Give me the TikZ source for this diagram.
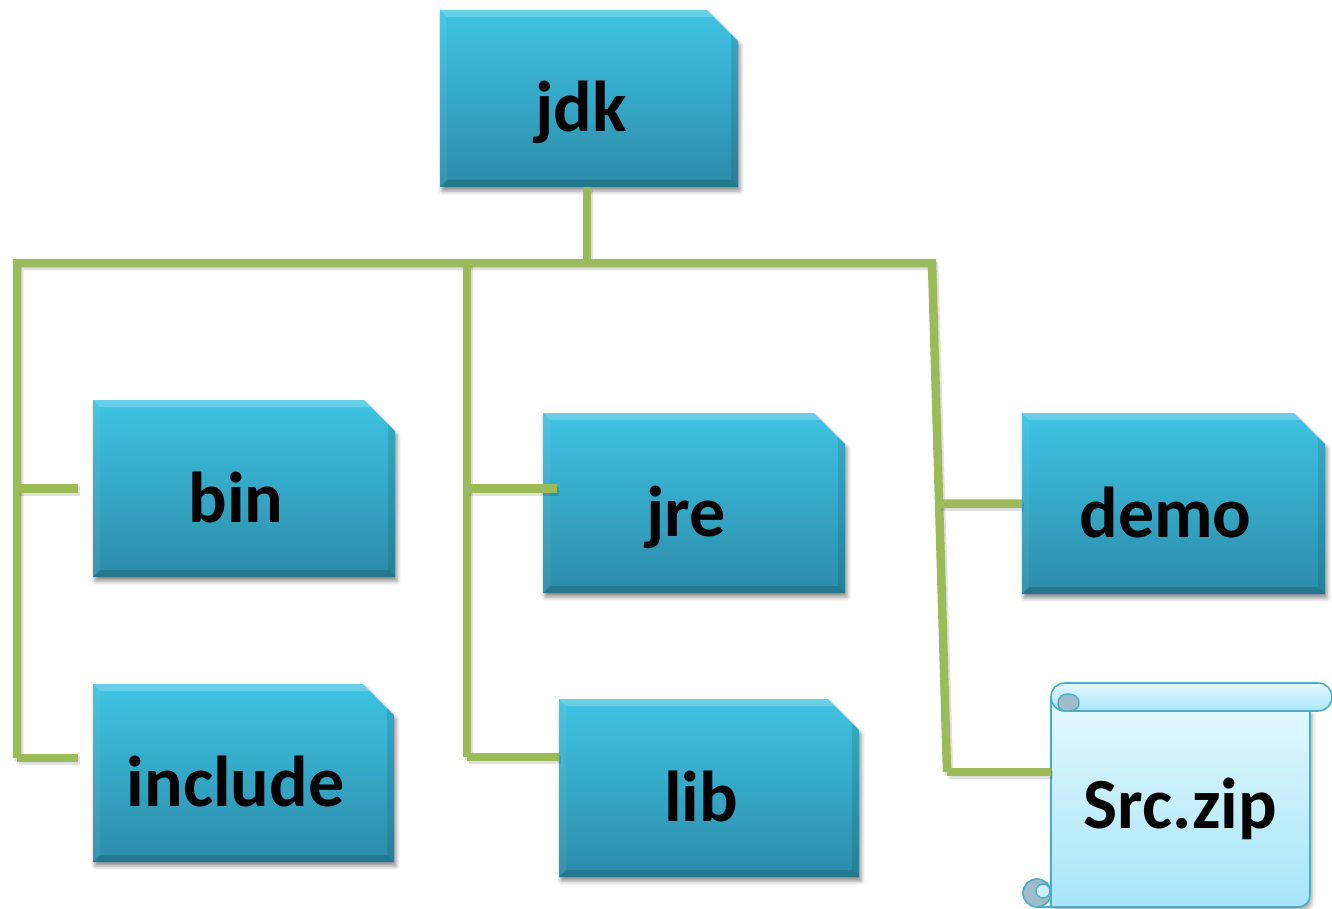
\documentclass[tikz,border=0pt]{standalone}
\usepackage{fontspec}
\setmainfont{Carlito}
\usetikzlibrary{shapes.misc,shadows,shadows.blur,calc}

\definecolor{boxtop}{HTML}{3FC3E4}
\definecolor{boxbot}{HTML}{2C8CA9}
\definecolor{branch}{HTML}{9BBB59}
\definecolor{scrolledge}{HTML}{4BACC6}
\definecolor{scrolltop}{HTML}{E4F8FE}
\definecolor{scrollbot}{HTML}{A6E6F8}
\definecolor{curl}{HTML}{9DBDC8}

\tikzset{
  folder/.style={
    chamfered rectangle, chamfered rectangle corners=north east,
    chamfered rectangle xsep=28pt,
    inner sep=0pt, draw=none,
    top color=boxtop, bottom color=boxbot,
    blur shadow={shadow xshift=2pt, shadow yshift=-4pt, shadow blur radius=4pt, shadow opacity=45},
    path picture={
      \fill[white,opacity=.22] (path picture bounding box.north west) -- (path picture bounding box.north east)
        -- ([xshift=-7pt,yshift=-7pt]path picture bounding box.north east) -- ([xshift=7pt,yshift=-7pt]path picture bounding box.north west) -- cycle;
      \fill[black,opacity=.15] (path picture bounding box.south west) -- (path picture bounding box.south east)
        -- ([xshift=-7pt,yshift=7pt]path picture bounding box.south east) -- ([xshift=7pt,yshift=7pt]path picture bounding box.south west) -- cycle;
      \fill[black,opacity=.10] (path picture bounding box.north east) -- (path picture bounding box.south east)
        -- ([xshift=-7pt,yshift=7pt]path picture bounding box.south east) -- ([xshift=-7pt,yshift=-7pt]path picture bounding box.north east) -- cycle;
      \fill[white,opacity=.06] (path picture bounding box.north west) -- (path picture bounding box.south west)
        -- ([xshift=7pt,yshift=7pt]path picture bounding box.south west) -- ([xshift=7pt,yshift=-7pt]path picture bounding box.north west) -- cycle;
    },
    font=\fontsize{72}{80}\selectfont\bfseries,
    text height=67pt, text depth=0pt,
    execute at begin node={\kern-16pt}
  },
  branchline/.style={
    draw=branch, line width=8.5pt, line join=miter,
    preaction={draw=black, opacity=.12, line width=8.5pt, transform canvas={xshift=2pt,yshift=-3pt}}
  },
  scrollpart/.style={draw=scrolledge, line width=1.6pt, top color=scrolltop, bottom color=scrollbot}
}

\begin{document}
\begin{tikzpicture}[x=1pt,y=-1pt]
  \useasboundingbox (0,0) rectangle (1332,909);

  % folder boxes
  \node[folder, minimum width=298pt, minimum height=177pt] (jdk) at (589,98.5) {jdk};
  \node[folder, minimum width=302pt, minimum height=177pt] (bin) at (244,488.5) {bin};
  \node[folder, minimum width=301pt, minimum height=178pt] (include) at (243.5,773) {include};
  \node[folder, minimum width=302pt, minimum height=180pt] (jre) at (694,503) {jre};
  \node[folder, minimum width=300pt, minimum height=178pt] (lib) at (709,788) {lib};
  \node[folder, minimum width=303pt, minimum height=181pt] (demo) at (1173.5,503.5) {demo};

  % scroll for the source archive
  \begin{scope}
    \path[scrollpart, blur shadow={shadow xshift=2pt, shadow yshift=-4pt, shadow blur radius=4pt, shadow opacity=35}]
      (1051,697) -- (1051,907) -- (1298,907) .. controls (1305,907) and (1310,902) .. (1310,895) -- (1310,711) -- cycle;
    \path[scrollpart]
      (1065,683) -- (1318,683) .. controls (1326,683) and (1332,689) .. (1332,697)
      .. controls (1332,705) and (1326,711) .. (1318,711) -- (1065,711)
      .. controls (1057,711) and (1051,705) .. (1051,697)
      .. controls (1051,689) and (1057,683) .. (1065,683) -- cycle;
    \path[fill=curl, draw=scrolledge, line width=1.4pt] (1058,704) .. controls (1058,697) and (1062,694) .. (1068,694)
      .. controls (1075,694) and (1079,698) .. (1079,703) .. controls (1079,708) and (1075,711) .. (1068,711)
      -- (1065,711) .. controls (1061,711) and (1058,708) .. (1058,704) -- cycle;
    \path[draw=scrolledge, line width=1.6pt, fill=curl] (1037,893) circle[radius=14];
    \path[draw=scrolledge, line width=1.4pt, fill=scrollbot!60!white]
      (1043,891) circle[radius=7];
    \draw[scrolledge, line width=1.6pt] (1037,907) -- (1051,907);
  \end{scope}
  \node[minimum width=259pt, minimum height=224pt, inner sep=0pt,
        font=\fontsize{72}{80}\selectfont\bfseries, text height=67pt, text depth=0pt] (src) at (1180.5,795) {Src.zip};

  % branch connectors
  \coordinate (t) at (587,263);
  \coordinate (la) at (17,263);
  \coordinate (lb) at (17,758);
  \coordinate (ma) at (467,263);
  \coordinate (mb) at (467,757);
  \coordinate (ra) at (932,263);
  \coordinate (rb) at (947,772);

  \draw[branchline] (jdk.south -| t) -- (t);
  \draw[branchline] (lb) -- (la) -- (ra) -- (rb);
  \draw[branchline] (ma) -- (mb);

  \draw[branchline] (la |- bin.west) -- ($(bin.west)+(-15,0)$);
  \draw[branchline] (lb) -- ($(include.west |- lb)+(-15,0)$);
  \draw[branchline] (ma |- bin.west) -- ($(jre.west |- bin.west)+(14,0)$);
  \draw[branchline] (mb) -- (mb -| lib.west);
  \draw[branchline] ($(ra)!0.4725!(rb)$) -- (demo.west);
  \draw[branchline] (rb) -- (rb -| src.west);
\end{tikzpicture}
\end{document}
